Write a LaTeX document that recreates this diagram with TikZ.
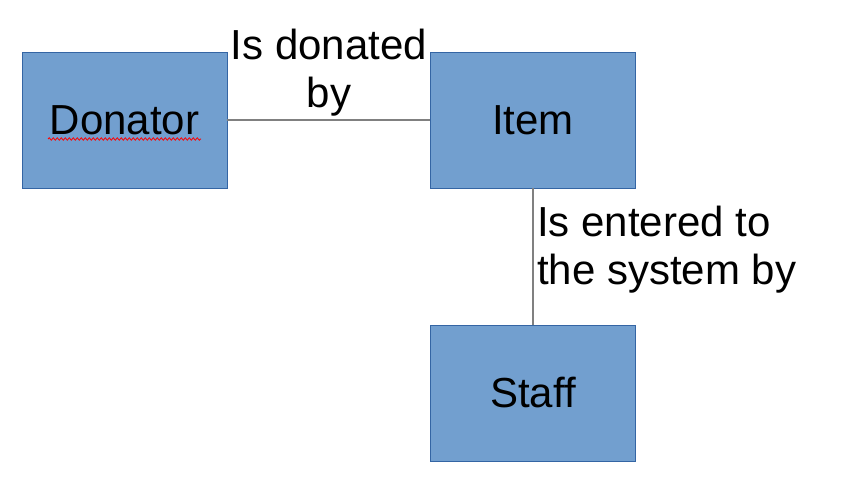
\documentclass[tikz,border=0pt]{standalone}
\usepackage{fontspec}
\setmainfont{Liberation Sans}
\usetikzlibrary{decorations.pathmorphing}
\definecolor{boxfill}{HTML}{729FCF}
\definecolor{boxline}{HTML}{3465A4}
\definecolor{linkgray}{HTML}{808080}
\begin{document}
\begin{tikzpicture}[x=1pt,y=-1pt,
  entity/.style={draw=boxline, line width=0.8pt, fill=boxfill, minimum width=205pt, minimum height=136pt, inner sep=0pt, font=\fontsize{42}{48}\selectfont},
  link/.style={draw=linkgray, line width=1.5pt},
  rel/.style={inner sep=0pt, font=\fontsize{42}{48}\selectfont}]
\useasboundingbox (0,0) rectangle (841,494);
\node[entity] (donator) at (124.5,120) {Donator};
\node[entity] (item) at (533,120) {Item};
\node[entity] (staff) at (533,393) {Staff};
\draw[link] (donator) -- (item);
\draw[link] (item) -- (staff);
\node[rel, anchor=base, align=center] (lab1) at (329,108) {Is donated\\by};
\node[rel, anchor=base west, align=left] (lab2) at (537,285) {Is entered to\\the system by};
\draw[red, line width=0.8pt, decorate, decoration={snake, amplitude=1.2pt, segment length=4pt}] (48,139) -- (201,139);
\end{tikzpicture}
\end{document}
